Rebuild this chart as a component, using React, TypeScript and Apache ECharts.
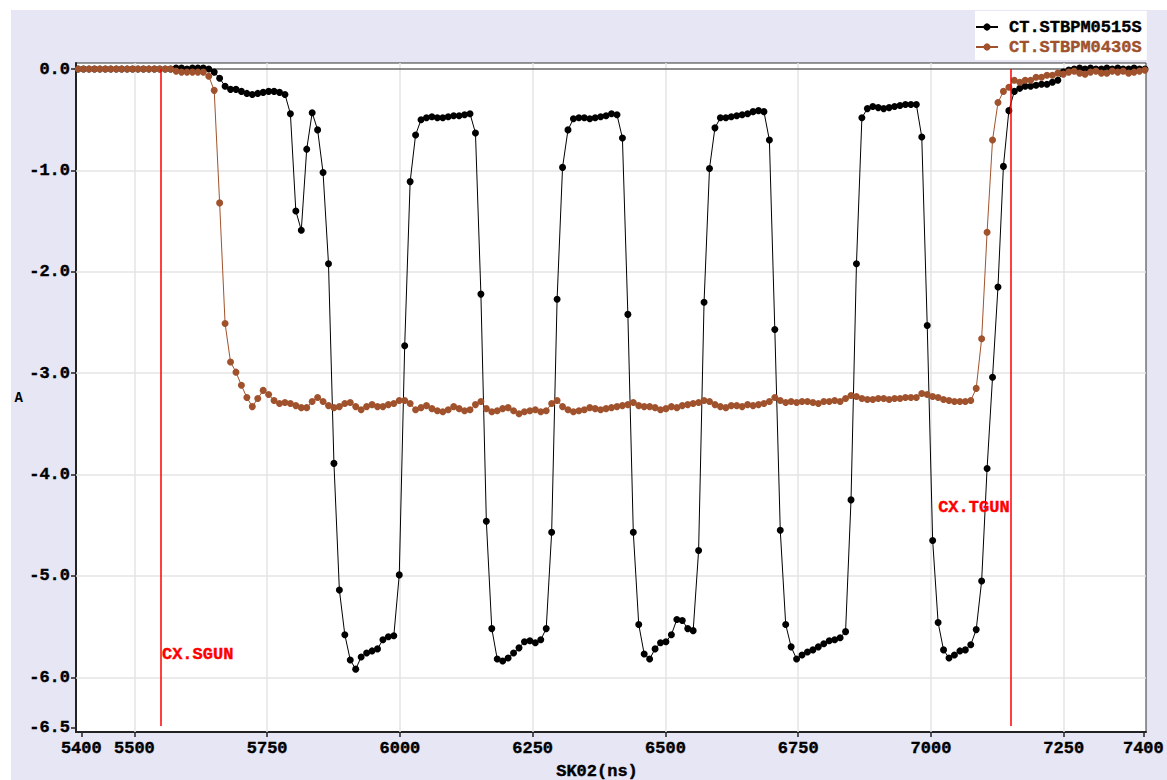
import React, { useEffect, useRef } from "react";
import * as echarts from "echarts";

const seriesNames = ["CT.STBPM0515S", "CT.STBPM0430S"];
const seriesColors = ["#000000", "#a0522d"];

// sample grid of the scope trace (ns)
const sampleStartNs = 5394;
const samplePeriodNs = 10.25;

const stbpm0515s = [
  0, 0, 0, 0, 0, 0, 0, 0, 0, 0,
  0, 0, 0, 0, 0, 0, 0, 0, 0.01, 0.01,
  0, 0.01, 0.01, 0.01, 0, -0.03, -0.09, -0.17, -0.2, -0.2,
  -0.22, -0.24, -0.25, -0.24, -0.23, -0.22, -0.22, -0.23, -0.25, -0.44,
  -1.4, -1.59, -0.79, -0.43, -0.6, -1.02, -1.92, -3.89, -5.14, -5.58,
  -5.83, -5.92, -5.8, -5.76, -5.74, -5.72, -5.63, -5.6, -5.59, -4.99,
  -2.73, -1.11, -0.65, -0.5, -0.48, -0.47, -0.48, -0.48, -0.47, -0.46,
  -0.46, -0.45, -0.44, -0.63, -2.22, -4.46, -5.52, -5.82, -5.84, -5.81,
  -5.76, -5.71, -5.65, -5.64, -5.66, -5.63, -5.52, -4.57, -2.27, -0.97,
  -0.6, -0.49, -0.48, -0.48, -0.49, -0.48, -0.47, -0.46, -0.44, -0.45,
  -0.68, -2.42, -4.57, -5.48, -5.77, -5.82, -5.72, -5.66, -5.65, -5.58,
  -5.43, -5.44, -5.52, -5.54, -4.75, -2.3, -0.98, -0.58, -0.48, -0.48,
  -0.47, -0.46, -0.45, -0.44, -0.42, -0.41, -0.42, -0.7, -2.57, -4.55,
  -5.48, -5.7, -5.82, -5.78, -5.75, -5.73, -5.7, -5.67, -5.64, -5.63,
  -5.61, -5.55, -4.25, -1.92, -0.48, -0.39, -0.37, -0.38, -0.39, -0.38,
  -0.37, -0.36, -0.35, -0.35, -0.35, -0.67, -2.53, -4.65, -5.46, -5.73,
  -5.81, -5.78, -5.74, -5.73, -5.68, -5.53, -5.05, -3.94, -3.04, -2.15,
  -0.96, -0.41, -0.22, -0.19, -0.17, -0.17, -0.16, -0.15, -0.15, -0.13,
  -0.11, -0.03, -0.01, 0, 0.01, 0, 0.01, 0, 0, 0.01,
  0, 0.01, 0, 0, 0.01, 0, 0,
];

const stbpm0430s = [
  0, 0, 0, 0, 0, 0, 0, 0, 0, 0,
  0, 0, 0, 0, 0, 0, 0, 0, -0.02, -0.03,
  -0.03, -0.03, -0.03, -0.03, -0.07, -0.21, -1.32, -2.51, -2.89, -2.99,
  -3.12, -3.24, -3.33, -3.25, -3.17, -3.21, -3.27, -3.3, -3.29, -3.3,
  -3.32, -3.34, -3.34, -3.28, -3.24, -3.28, -3.32, -3.34, -3.33, -3.3,
  -3.29, -3.33, -3.36, -3.33, -3.31, -3.33, -3.33, -3.31, -3.3, -3.27,
  -3.27, -3.3, -3.36, -3.34, -3.32, -3.35, -3.37, -3.38, -3.36, -3.33,
  -3.35, -3.37, -3.36, -3.31, -3.28, -3.35, -3.38, -3.37, -3.35, -3.34,
  -3.37, -3.4, -3.38, -3.37, -3.36, -3.38, -3.37, -3.3, -3.27, -3.33,
  -3.36, -3.38, -3.37, -3.36, -3.34, -3.35, -3.36, -3.35, -3.34, -3.33,
  -3.32, -3.31, -3.29, -3.32, -3.33, -3.33, -3.34, -3.36, -3.35, -3.33,
  -3.34, -3.32, -3.31, -3.3, -3.29, -3.27, -3.28, -3.31, -3.33, -3.34,
  -3.32, -3.32, -3.33, -3.31, -3.32, -3.31, -3.3, -3.28, -3.24, -3.27,
  -3.29, -3.28, -3.29, -3.28, -3.28, -3.29, -3.3, -3.28, -3.28, -3.27,
  -3.28, -3.25, -3.22, -3.23, -3.25, -3.26, -3.26, -3.25, -3.25, -3.26,
  -3.25, -3.25, -3.24, -3.24, -3.24, -3.2, -3.21, -3.23, -3.24, -3.26,
  -3.27, -3.28, -3.28, -3.28, -3.27, -3.15, -2.66, -1.61, -0.7, -0.33,
  -0.22, -0.18, -0.11, -0.13, -0.11, -0.11, -0.08, -0.08, -0.06, -0.06,
  -0.04, -0.05, -0.03, -0.02, -0.04, -0.05, -0.03, -0.02, -0.04, -0.04,
  -0.02, -0.03, -0.02, -0.04, -0.03, -0.02, -0.01,
];

const xTickValues = [5400, 5500, 5750, 6000, 6250, 6500, 6750, 7000, 7250, 7400];
const yTickValues = [0, -1, -2, -3, -4, -5, -6, -6.5];
const xGridValues = [5500, 5750, 6000, 6250, 6500, 6750, 7000, 7250];
const yGridValues = [-1, -2, -3, -4, -5, -6];

const markerNames = ["CX.SGUN", "CX.TGUN"];
const markerTimes = [5550, 7150];
const markerLabelLevels = [-5.78, -4.33];
const markerLineTop = 0;
const markerLineBottom = -6.48;

export default function App() {
  const ref = useRef<HTMLDivElement>(null);

  useEffect(() => {
    if (!ref.current) return;
    const chart = echarts.init(ref.current, null, { renderer: "svg" });
    const font = "'Liberation Mono', 'Courier New', monospace";
    const boldText = {
      fontFamily: font,
      fontWeight: "bold",
      fontSize: 17,
      textBorderWidth: 0.4,
    };
    const times = stbpm0515s.map((_, i) => sampleStartNs + i * samplePeriodNs);
    const toPairs = (vals: number[]) => vals.map((v, i) => [times[i], v]);

    const dataSeries = [stbpm0515s, stbpm0430s].map((vals, k) => ({
      name: seriesNames[k],
      type: "line",
      data: toPairs(vals),
      symbol: "circle",
      symbolSize: 7,
      showSymbol: true,
      showAllSymbol: true,
      z: 3 + k,
      lineStyle: { color: seriesColors[k], width: 1 },
      itemStyle: { color: seriesColors[k], borderWidth: 0 },
      emphasis: { disabled: true },
    }));

    chart.setOption({
      animation: false,
      backgroundColor: "#e6e6f5",
      grid: {
        left: 65,
        top: 53,
        width: 1070,
        height: 669,
        containLabel: false,
        outerBoundsMode: "none",
        show: true,
        backgroundColor: "#ffffff",
        borderColor: "#333333",
        borderWidth: 1,
      },
      legend: {
        show: true,
        orient: "vertical",
        left: 964,
        top: 1,
        backgroundColor: "#ffffff",
        padding: [6, 5, 3, 0],
        itemGap: 0,
        itemWidth: 22,
        itemHeight: 9,
        selectedMode: false,
        textStyle: {
          ...boldText,
          lineHeight: 20,
          padding: [0, 0, 0, 6],
        },
        data: seriesNames.map((n, k) => ({
          name: n,
          textStyle: { color: seriesColors[k], textBorderColor: seriesColors[k] },
        })),
      },
      xAxis: {
        type: "value",
        min: 5390,
        max: 7405,
        name: "SK02(ns)",
        nameLocation: "middle",
        nameGap: 31,
        nameTextStyle: {
          ...boldText,
          color: "#000",
          textBorderColor: "#000",
          lineHeight: 17,
          padding: [0, 28, 0, 0],
        },
        axisLine: { show: true, onZero: false, lineStyle: { color: "#222", width: 2 } },
        axisTick: {
          show: true,
          customValues: xTickValues,
          length: 5,
          lineStyle: { color: "#222", width: 1.5 },
        },
        axisLabel: {
          customValues: xTickValues,
          formatter: (v: number) => String(v),
          ...boldText,
          color: "#000",
          textBorderColor: "#000",
          margin: 8,
        },
        splitLine: { show: false },
      },
      yAxis: {
        type: "value",
        min: -6.54,
        max: 0.06,
        name: "A",
        nameLocation: "middle",
        nameRotate: 0,
        nameGap: 53,
        nameTextStyle: { fontFamily: font, fontWeight: "bold", fontSize: 14, color: "#000" },
        axisLine: { show: true, onZero: false, lineStyle: { color: "#222", width: 2 } },
        axisTick: {
          show: true,
          customValues: yTickValues,
          length: 5,
          lineStyle: { color: "#222", width: 1.5 },
        },
        axisLabel: {
          customValues: yTickValues,
          formatter: (v: number) => v.toFixed(1),
          ...boldText,
          color: "#000",
          textBorderColor: "#000",
          margin: 6,
        },
        splitLine: { show: false },
      },
      series: [
        {
          name: "grid",
          type: "line",
          data: [],
          silent: true,
          z: 1,
          markLine: {
            silent: true,
            z: 1,
            symbol: ["none", "none"],
            label: { show: false },
            emphasis: { disabled: true },
            lineStyle: { color: "#e4e4e4", width: 1.5, type: "solid" },
            data: [
              ...xGridValues.map((x) => ({ xAxis: x })),
              ...yGridValues.map((y) => ({ yAxis: y })),
              { yAxis: 0, lineStyle: { color: "#666666", width: 1.5, type: "solid" } },
            ],
          },
        },
        ...dataSeries,
        {
          name: "markers",
          type: "line",
          data: [],
          silent: true,
          markLine: {
            silent: true,
            symbol: ["none", "none"],
            label: { show: false },
            emphasis: { disabled: true },
            lineStyle: { color: "#ff0000", width: 1.5, type: "solid" },
            data: markerTimes.map((t) => [
              { coord: [t, markerLineTop] },
              { coord: [t, markerLineBottom] },
            ]),
          },
          markPoint: {
            silent: true,
            symbol: "circle",
            symbolSize: 0,
            data: markerNames.map((n, i) => ({
              name: n,
              coord: [markerTimes[i], markerLabelLevels[i]],
              label: {
                show: true,
                position: i === 0 ? "right" : "left",
                distance: 1,
                formatter: n,
                color: "#ff0000",
                ...boldText,
                textBorderColor: "#ff0000",
              },
            })),
          },
        },
      ],
    });
    return () => chart.dispose();
  }, []);

  return (
    <div
      ref={ref}
      style={{ position: "absolute", left: 11, top: 10, width: 1156, height: 770 }}
    />
  );
}
